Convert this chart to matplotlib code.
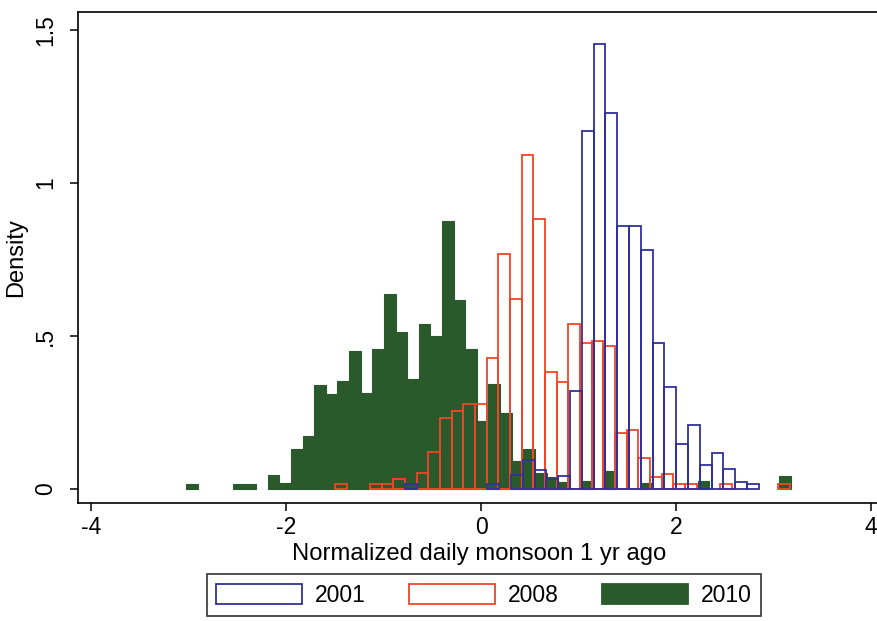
import numpy as np
import matplotlib.pyplot as plt
from matplotlib.patches import Patch

plt.rcParams['font.family'] = ['Liberation Sans', 'DejaVu Sans']

# bin layout (left edge of first bin, bin width) for each year
start_2001, width_2001 = -0.781, 0.1211
start_2008, width_2008 = -1.499, 0.1198
start_2010, width_2010 = -3.025, 0.1193

# densities per bin, read left to right
dens_2001 = [0.016, 0, 0, 0, 0, 0, 0, 0.015, 0, 0.047, 0.095, 0.063, 0.032, 0.042,
             0.321, 1.169, 1.453, 1.230, 0.860, 0.860, 0.782, 0.478, 0.334, 0.147,
             0.208, 0.077, 0.117, 0.064, 0.023, 0.016]
dens_2008 = [0.015, 0, 0, 0.017, 0.018, 0.032, 0, 0.053, 0.122, 0.231, 0.256, 0.277,
             0.277, 0.427, 0.769, 0.620, 1.093, 0.881, 0.381, 0.350, 0.538, 0.476,
             0.483, 0.467, 0.183, 0.193, 0.102, 0.039, 0.049, 0.018, 0.018, 0, 0,
             0.018, 0, 0, 0, 0, 0.018]
dens_2010 = [0.015, 0, 0, 0, 0.015, 0.015, 0, 0.045, 0.020, 0.130, 0.174, 0.340,
             0.310, 0.354, 0.450, 0.315, 0.457, 0.637, 0.514, 0.361, 0.540, 0.500,
             0.877, 0.618, 0.459, 0.222, 0.343, 0.247, 0.090, 0.131, 0.051, 0.040,
             0.024, 0, 0.025, 0, 0.060, 0, 0, 0.020, 0, 0, 0, 0, 0.025, 0, 0, 0,
             0, 0, 0, 0.042]

col_2001 = '#30309a'
col_2008 = '#f04528'
col_2010 = '#2a5a2c'


def draw_hist(ax, start, width, dens, **kw):
    dens = np.asarray(dens, dtype=float)
    left = start + width * np.arange(len(dens))
    keep = dens > 0
    ax.bar(left[keep], dens[keep], width=width, align='edge', **kw)


fig = plt.figure(figsize=(8.77, 6.21), dpi=100)
ax = fig.add_axes([78 / 877, (621 - 503) / 621, 802.3 / 877, (503 - 12) / 621])

draw_hist(ax, start_2010, width_2010, dens_2010, color=col_2010,
          edgecolor=col_2010, linewidth=0.8)
draw_hist(ax, start_2008, width_2008, dens_2008, facecolor='none',
          edgecolor=col_2008, linewidth=1.3)
draw_hist(ax, start_2001, width_2001, dens_2001, facecolor='none',
          edgecolor=col_2001, linewidth=1.3)

ax.set_xlim(-4.138, 4.1)
ax.set_ylim(-0.0457, 1.559)
ax.set_xticks([-4, -2, 0, 2, 4])
ax.set_xticklabels(['-4', '-2', '0', '2', '4'])
ax.set_yticks([0, 0.5, 1, 1.5])
ax.set_yticklabels(['0', '.5', '1', '1.5'], rotation=90, va='center')
ax.tick_params(axis='both', direction='out', length=6, width=1.1,
               labelsize=16.5, color='black')
ax.tick_params(axis='x', pad=3)
ax.tick_params(axis='y', pad=9)
for s in ax.spines.values():
    s.set_linewidth(1.2)
    s.set_color('black')

ax.set_xlabel('Normalized daily monsoon 1 yr ago', fontsize=17.2, labelpad=3)
ax.set_ylabel('Density', fontsize=17, labelpad=5)

handles = [Patch(facecolor='white', edgecolor=col_2001, linewidth=1.3),
           Patch(facecolor='white', edgecolor=col_2008, linewidth=1.3),
           Patch(facecolor=col_2010, edgecolor=col_2010, linewidth=1.3)]
leg = fig.legend(handles, ['2001', '2008', '2010'], loc='center',
                 bbox_to_anchor=(484 / 877, (621 - 595) / 621), ncol=3,
                 fontsize=16.5, frameon=True, fancybox=False, edgecolor='black',
                 handlelength=3.75, handleheight=0.95, handletextpad=0.55,
                 columnspacing=1.9, borderpad=0.4, borderaxespad=0)
leg.get_frame().set_linewidth(1.2)

fig.savefig('out.png', dpi=100)
